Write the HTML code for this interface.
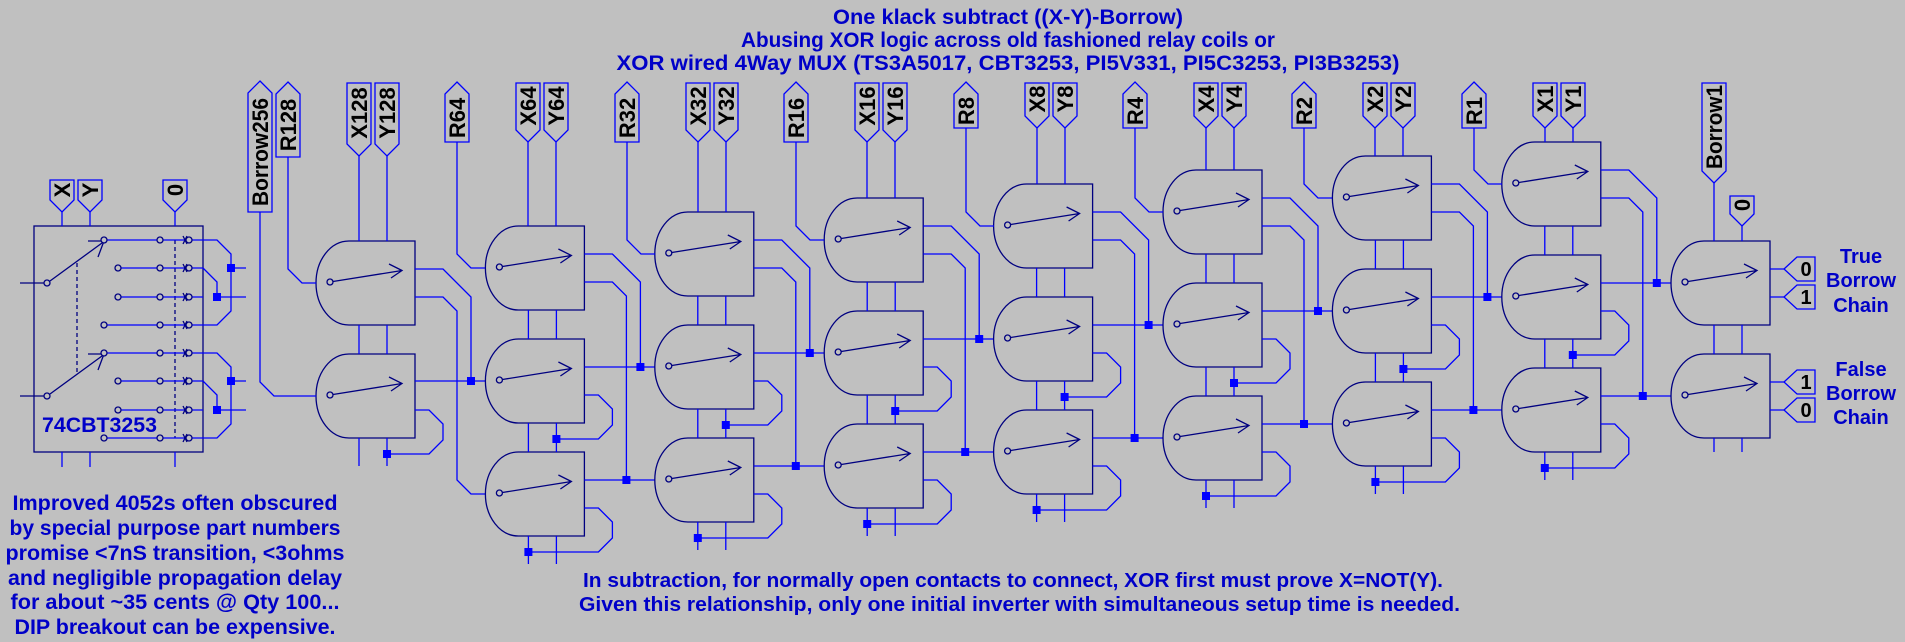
<!DOCTYPE html>
<html><head><meta charset="utf-8"><style>
html,body{margin:0;padding:0;background:#c0c0c0;}
svg{display:block;}
.w{stroke:#0000ff;stroke-width:1.3;fill:none;}
.gt{stroke:#000080;stroke-width:1.3;fill:none;}
.lb{stroke:#0000ff;stroke-width:1.3;fill:none;}
.lt{font-family:"Liberation Sans",sans-serif;font-weight:bold;font-size:22px;fill:#000;}
.bt{font-family:"Liberation Sans",sans-serif;font-weight:bold;fill:#0000c8;}
</style></head><body>
<svg width="1905" height="642" viewBox="0 0 1905 642" xmlns="http://www.w3.org/2000/svg">
<rect width="1905" height="642" fill="#c0c0c0"/>
<defs>
<g id="gate">
<path class="gt" d="M33,0H99V84H33C14.5,84 0,65 0,42C0,19 14.5,0 33,0Z"/>
<circle class="gt" cx="14" cy="41" r="3"/>
<path class="gt" d="M17,40.5L86,29.5M73,23L86,29.5L75,37"/>
</g>
<g id="j"><rect x="-4" y="-4" width="8" height="8" fill="#0000ff"/></g>
<g id="st3">
<use href="#gate"/><use href="#gate" y="113"/><use href="#gate" y="226"/>
<path class="w" d="M43,84V113M71,84V113M43,197V226M71,197V226M43,310V338M71,310V338
M99,28H127L155,56V141M99,141H169
M99,56H127L141,70V254M99,254H169
M99,169H113L127,183V199L113,213H71
M99,282H113L127,296V312L113,326H43"/>
<use href="#j" x="155" y="141"/><use href="#j" x="141" y="254"/><use href="#j" x="71" y="213"/><use href="#j" x="43" y="326"/>
</g>
</defs>

<!-- Title -->
<text class="bt" font-size="21" x="1008" y="24" text-anchor="middle" textLength="350" lengthAdjust="spacingAndGlyphs">One klack subtract ((X-Y)-Borrow)</text>
<text class="bt" font-size="21" x="1008" y="47" text-anchor="middle" textLength="534" lengthAdjust="spacingAndGlyphs">Abusing XOR logic across old fashioned relay coils or</text>
<text class="bt" font-size="21" x="1008" y="70" text-anchor="middle" textLength="783" lengthAdjust="spacingAndGlyphs">XOR wired 4Way MUX (TS3A5017, CBT3253, PI5V331, PI5C3253, PI3B3253)</text>

<!-- Mux block -->
<rect class="gt" x="34" y="226" width="169" height="226"/>
<path class="w" d="M62,212V226M90,212V226M175,212V226M62,452V467M90,452V467M175,452V467"/>
<path class="gt" stroke-dasharray="4,3" d="M77,263V373M175,240V438"/>
<g class="gt">
<path d="M20,283H44M50,281L102,243M98,257L104,241L88,241"/>
<path d="M20,396H44M50,394L102,356M98,370L104,354L88,354"/>
<circle cx="47" cy="283" r="3"/><circle cx="47" cy="396" r="3"/>
</g>
<g class="w">
<path d="M107,240H203M121,268H203M121,297H203M107,325H203"/>
<path d="M107,353H203M121,381H203M121,410H203M107,438H203"/>
<path d="M203,240H217L231,254V311L217,325H203M203,268L217,282V297M231,268H246M217,297H246"/>
<path d="M203,353H217L231,367V424L217,438H203M203,381L217,395V410M231,381H246M217,410H246"/>
</g>
<g class="gt" fill="#c0c0c0">
<circle cx="104" cy="240" r="3" fill="#c0c0c0"/><circle cx="118" cy="268" r="3" fill="#c0c0c0"/><circle cx="118" cy="297" r="3" fill="#c0c0c0"/><circle cx="104" cy="325" r="3" fill="#c0c0c0"/>
<circle cx="104" cy="353" r="3" fill="#c0c0c0"/><circle cx="118" cy="381" r="3" fill="#c0c0c0"/><circle cx="118" cy="410" r="3" fill="#c0c0c0"/><circle cx="104" cy="438" r="3" fill="#c0c0c0"/>
<circle cx="160" cy="240" r="3" fill="#c0c0c0"/><circle cx="160" cy="268" r="3" fill="#c0c0c0"/><circle cx="160" cy="297" r="3" fill="#c0c0c0"/><circle cx="160" cy="325" r="3" fill="#c0c0c0"/>
<circle cx="160" cy="353" r="3" fill="#c0c0c0"/><circle cx="160" cy="381" r="3" fill="#c0c0c0"/><circle cx="160" cy="410" r="3" fill="#c0c0c0"/><circle cx="160" cy="438" r="3" fill="#c0c0c0"/>
<circle cx="189" cy="240" r="3" fill="#c0c0c0"/><circle cx="189" cy="268" r="3" fill="#c0c0c0"/><circle cx="189" cy="297" r="3" fill="#c0c0c0"/><circle cx="189" cy="325" r="3" fill="#c0c0c0"/>
<circle cx="189" cy="353" r="3" fill="#c0c0c0"/><circle cx="189" cy="381" r="3" fill="#c0c0c0"/><circle cx="189" cy="410" r="3" fill="#c0c0c0"/><circle cx="189" cy="438" r="3" fill="#c0c0c0"/>
<path fill="none" d="M183,236L187,244M183,244L187,236M183,264L187,272M183,272L187,264M183,293L187,301M183,301L187,293M183,321L187,329M183,329L187,321M183,349L187,357M183,357L187,349M183,377L187,385M183,385L187,377M183,406L187,414M183,414L187,406M183,434L187,442M183,442L187,434"/>
</g>
<use href="#j" x="231" y="268"/><use href="#j" x="217" y="297"/><use href="#j" x="231" y="381"/><use href="#j" x="217" y="410"/>
<text class="bt" font-size="21" x="42" y="432" textLength="115" lengthAdjust="spacingAndGlyphs">74CBT3253</text>

<!-- Mux labels -->
<path class="lb" d="M50,180H74V200L62,212L50,200Z"/>
<path class="lb" d="M78,180H102V200L90,212L78,200Z"/>
<path class="lb" d="M163,180H187V200L175,212L163,200Z"/>
<text class="lt" text-anchor="middle" transform="translate(70,190) rotate(-90)">X</text>
<text class="lt" text-anchor="middle" transform="translate(98,190) rotate(-90)">Y</text>
<text class="lt" text-anchor="middle" transform="translate(183,190) rotate(-90)">0</text>

<!-- Stage 0 -->
<g transform="translate(316,241)">
<use href="#gate"/><use href="#gate" y="113"/>
<path class="w" d="M43,84V113M71,84V113M43,197V225M71,197V225
M99,28H127L155,56V140M99,140H169
M99,56H127L141,70V239L155,253H169
M99,169H113L127,183V199L113,213H71"/>
<use href="#j" x="155" y="140"/><use href="#j" x="71" y="213"/>
</g>
<use href="#st3" transform="translate(485.4,226)"/>
<use href="#st3" transform="translate(654.8,212)"/>
<use href="#st3" transform="translate(824.2,198)"/>
<use href="#st3" transform="translate(993.6,184)"/>
<use href="#st3" transform="translate(1163,170)"/>
<use href="#st3" transform="translate(1332.4,156)"/>
<use href="#st3" transform="translate(1501.8,142)"/>
<!-- Final stage -->
<g transform="translate(1671,241)">
<use href="#gate"/><use href="#gate" y="113"/>
<path class="w" d="M43,84V113M71,84V113M43,197V211M71,197V211M99,28H113M99,56H113M99,141H113M99,169H113"/>
</g>

<!-- R input wires -->
<path class="w" d="M260,212V382L274,396H316
M288,157V269L302,283H316
M457,142V254L471,268H485
M627,142V240L641,254H655
M796,142V226L810,240H824
M966,128V212L980,226H994
M1135,128V198L1149,212H1163
M1304,128V184L1318,198H1332
M1474,128V170L1488,184H1502
M359,156V241M387,156V241
M528,142V226M556,142V226
M698,142V212M726,142V212
M867,142V198M895,142V198
M1037,128V184M1065,128V184
M1206,128V170M1234,128V170
M1375,128V156M1403,128V156
M1545,128V142M1573,128V142
M1714,183V241M1742,226V241"/>

<!-- R labels (pointing up) -->
<g class="lb">
<path d="M260,81L272,93V212H248V93Z"/>
<path d="M288,82L300,94V157H276V94Z"/>
<path d="M457,82L469,94V142H445V94Z"/>
<path d="M627,82L639,94V142H615V94Z"/>
<path d="M796,82L808,94V142H784V94Z"/>
<path d="M966,82L978,94V128H954V94Z"/>
<path d="M1135,82L1147,94V128H1123V94Z"/>
<path d="M1304,82L1316,94V128H1292V94Z"/>
<path d="M1474,82L1486,94V128H1462V94Z"/>
<!-- X/Y labels (pointing down) -->
<path d="M347,83H371V144L359,156L347,144Z"/><path d="M375,83H399V144L387,156L375,144Z"/>
<path d="M516,83H540V130L528,142L516,130Z"/><path d="M544,83H568V130L556,142L544,130Z"/>
<path d="M686,83H710V130L698,142L686,130Z"/><path d="M714,83H738V130L726,142L714,130Z"/>
<path d="M855,83H879V130L867,142L855,130Z"/><path d="M883,83H907V130L895,142L883,130Z"/>
<path d="M1025,83H1049V116L1037,128L1025,116Z"/><path d="M1053,83H1077V116L1065,128L1053,116Z"/>
<path d="M1194,83H1218V116L1206,128L1194,116Z"/><path d="M1222,83H1246V116L1234,128L1222,116Z"/>
<path d="M1363,83H1387V116L1375,128L1363,116Z"/><path d="M1391,83H1415V116L1403,128L1391,116Z"/>
<path d="M1533,83H1557V116L1545,128L1533,116Z"/><path d="M1561,83H1585V116L1573,128L1561,116Z"/>
<path d="M1702,83H1726V171L1714,183L1702,171Z"/>
<path d="M1730,196H1754V214L1742,226L1730,214Z"/>
<!-- output labels -->
<path d="M1784,269L1797,257H1815V281H1797Z"/>
<path d="M1784,297L1797,285H1815V309H1797Z"/>
<path d="M1784,382L1797,370H1815V394H1797Z"/>
<path d="M1784,410L1797,398H1815V422H1797Z"/>
</g>
<g class="lt" text-anchor="middle">
<text transform="translate(268,152) rotate(-90)" textLength="108" lengthAdjust="spacingAndGlyphs">Borrow256</text>
<text transform="translate(296,125) rotate(-90)">R128</text>
<text transform="translate(465,118) rotate(-90)">R64</text>
<text transform="translate(635,118) rotate(-90)">R32</text>
<text transform="translate(804,118) rotate(-90)">R16</text>
<text transform="translate(974,111) rotate(-90)">R8</text>
<text transform="translate(1143,111) rotate(-90)">R4</text>
<text transform="translate(1312,111) rotate(-90)">R2</text>
<text transform="translate(1482,111) rotate(-90)">R1</text>
<text transform="translate(367,113) rotate(-90)">X128</text><text transform="translate(395,113) rotate(-90)">Y128</text>
<text transform="translate(536,106) rotate(-90)">X64</text><text transform="translate(564,106) rotate(-90)">Y64</text>
<text transform="translate(706,106) rotate(-90)">X32</text><text transform="translate(734,106) rotate(-90)">Y32</text>
<text transform="translate(875,106) rotate(-90)">X16</text><text transform="translate(903,106) rotate(-90)">Y16</text>
<text transform="translate(1045,99) rotate(-90)">X8</text><text transform="translate(1073,99) rotate(-90)">Y8</text>
<text transform="translate(1214,99) rotate(-90)">X4</text><text transform="translate(1242,99) rotate(-90)">Y4</text>
<text transform="translate(1383,99) rotate(-90)">X2</text><text transform="translate(1411,99) rotate(-90)">Y2</text>
<text transform="translate(1553,99) rotate(-90)">X1</text><text transform="translate(1581,99) rotate(-90)">Y1</text>
<text transform="translate(1722,127) rotate(-90)" textLength="84" lengthAdjust="spacingAndGlyphs">Borrow1</text>
<text transform="translate(1750,205) rotate(-90)">0</text>
</g>
<g class="lt" font-size="20" text-anchor="middle" style="font-size:20px">
<text x="1806" y="276">0</text><text x="1806" y="304">1</text>
<text x="1806" y="389">1</text><text x="1806" y="417">0</text>
</g>
<g class="bt" font-size="20" text-anchor="middle">
<text x="1861" y="263">True</text><text x="1861" y="287">Borrow</text><text x="1861" y="312">Chain</text>
<text x="1861" y="376">False</text><text x="1861" y="400">Borrow</text><text x="1861" y="424">Chain</text>
</g>

<!-- bottom-left note -->
<g class="bt" font-size="21" text-anchor="middle">
<text x="175" y="510" textLength="325" lengthAdjust="spacingAndGlyphs">Improved 4052s often obscured</text>
<text x="175" y="535" textLength="331" lengthAdjust="spacingAndGlyphs">by special purpose part numbers</text>
<text x="175" y="560" textLength="339" lengthAdjust="spacingAndGlyphs">promise &lt;7nS transition, &lt;3ohms</text>
<text x="175" y="585" textLength="334" lengthAdjust="spacingAndGlyphs">and negligible propagation delay</text>
<text x="175" y="609" textLength="329" lengthAdjust="spacingAndGlyphs">for about ~35 cents @ Qty 100...</text>
<text x="175" y="634" textLength="321" lengthAdjust="spacingAndGlyphs">DIP breakout can be expensive.</text>
</g>
<!-- bottom note -->
<g class="bt" font-size="20">
<text x="583" y="587" textLength="860" lengthAdjust="spacingAndGlyphs">In subtraction, for normally open contacts to connect, XOR first must prove X=NOT(Y).</text>
<text x="579" y="611" textLength="881" lengthAdjust="spacingAndGlyphs">Given this relationship, only one initial inverter with simultaneous setup time is needed.</text>
</g>
</svg>
</body></html>
